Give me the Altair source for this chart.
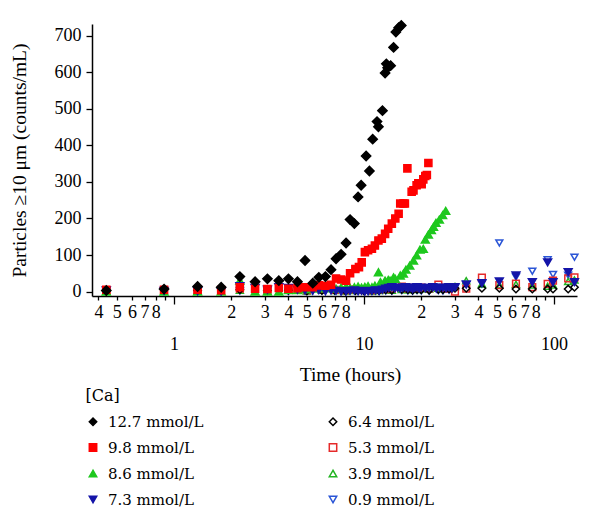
import altair as alt
import pandas as pd

# ---- data (Time in hours, particles counts/mL) ----
t_127 = [0.44, 0.886, 1.33, 1.77, 2.22, 2.67, 3.10, 3.56, 4.00, 4.46, 4.89, 5.37, 5.78, 6.26, 6.70,
         7.12, 7.57, 8.04, 8.44, 8.89, 9.30, 9.65, 10.25, 10.67, 11.1, 11.7, 11.9, 12.5, 12.9, 13.1,
         13.3, 13.8, 14.3, 14.7, 15.2, 15.7]
v_127 = [3, 7, 14, 12, 41, 27, 35, 30, 35, 27, 85, 23, 39, 41, 60,
         90, 102, 133, 197, 186, 259, 291, 371, 330, 417, 465, 451, 495, 598, 623,
         612, 618, 668, 710, 722, 728]

t_98 = [0.44, 0.886, 1.33, 1.77, 2.22, 2.67, 3.10, 3.56, 4.00, 4.46, 4.89, 5.37, 5.78, 6.26, 6.70,
        7.12, 7.57, 8.04, 8.44, 9.0, 9.4, 9.72, 10.1, 10.5, 11.0, 11.4, 11.9, 12.4, 12.9, 13.4,
        14.0, 14.6, 15.2, 15.5, 16.1, 16.4, 16.9, 17.8, 18.2, 18.9, 19.3, 20.1, 20.5, 21.0, 21.4, 21.8]
v_98 = [5, 5, 5, 4, 12, 8, 7, 10, 8, 9, 12, 12, 17, 16, 19,
        36, 33, 30, 50, 62, 67, 80, 108, 113, 117, 126, 140, 145, 158, 172,
        186, 200, 213, 241, 241, 241, 337, 273, 277, 291, 296, 294, 307, 316, 319, 352]

t_86 = [0.44, 0.886, 1.33, 1.77, 2.22, 2.67, 3.10, 3.56, 4.00, 4.46, 4.89, 5.37, 5.78, 6.26, 6.70,
        7.12, 7.57, 8.04, 8.44, 8.89, 9.30, 9.70, 10.1, 10.5, 11.0, 11.4, 11.9, 12.2, 12.9, 13.4,
        13.7, 14.3, 14.6, 15.5, 16.1, 16.6, 17.4, 18.2, 18.9, 19.7, 20.5, 21.0, 21.8, 22.6, 23.2,
        23.9, 24.9, 25.9, 26.9]
v_86 = [0, 0, 0, 0, 30, 0, 0, 0, 5, 4, 6, 8, 10, 9, 12,
        8, 11, 13, 10, 12, 14, 11, 13, 15, 12, 16, 53, 26, 30, 32,
        30, 39, 35, 44, 49, 60, 71, 85, 99, 115, 117, 142, 156, 168, 177,
        188, 197, 209, 221]

t_73 = [0.44, 0.886, 1.33, 1.77, 2.22, 2.67, 3.10, 3.56, 4.00, 4.46, 4.89, 5.37, 5.78, 6.26, 6.70,
        7.12, 7.57, 8.04, 8.44, 8.89, 9.30, 9.70, 10.1, 10.5, 11.0, 11.5, 12.0, 12.5, 13.0, 13.5,
        14.0, 14.5, 15.0, 15.5, 16.0, 16.5, 17.0, 17.5, 18.0, 18.5, 19.0, 19.5, 20.0, 21.0, 22.0,
        23.0, 24.0, 25.0, 26.0, 27.0, 28.0, 29.0, 30.1, 34.5, 41.7, 51.5, 63.0, 76.8, 92.5, 98.7,
        118.6, 128.0]
v_73 = [3, 2, 1, 0, 15, 10, 5, 12, 10, 5, 3, 2, 4, 1, 3,
        2, 0, 1, 2, 3, 1, 2, 0, 1, 2, 3, 2, 5, 8, 10,
        12, 9, 11, 8, 10, 12, 9, 11, 7, 10, 12, 8, 11, 9, 10,
        12, 8, 10, 11, 9, 12, 8, 12, 19, 23, 28, 44, 26, 80, 26,
        53, 26]

t_open = [0.44, 1.33, 2.22, 3.10, 4.00, 5.0, 6.0, 7.0, 8.0, 9.0, 10.0, 11.0, 12.0, 13.0, 14.0,
          15.8, 17.0, 18.0, 19.0, 20.0, 22.0, 24.6, 26.0, 28.0, 30.1, 34.5, 41.7, 51.5, 63.0, 76.8,
          92.5, 98.7, 118.6, 128.0]
v_64 = [2, 3, 5, 3, 4, 2, 3, 4, 2, 3, 2, 4, 3, 5, 4,
        6, 5, 4, 6, 5, 4, 6, 5, 7, 9, 9, 9, 9, 7, 7,
        7, 7, 7, 12]
v_53 = [4, 5, 8, 6, 5, 4, 6, 5, 4, 6, 5, 4, 6, 7, 8,
        14, 9, 10, 8, 11, 9, 19, 10, 8, 0, 8, 38, 18, 22, 12,
        21, 30, 36, 39]
v_39 = [1, 2, 4, 2, 3, 2, 4, 3, 2, 3, 4, 2, 3, 5, 4,
        6, 5, 7, 6, 8, 7, 9, 8, 10, 14, 30, 21, 18, 20, 18,
        15, 18, 28, 32]
v_09 = [0, 1, 2, 1, 0, 1, 2, 1, 0, 1, 2, 1, 0, 2, 1,
        3, 2, 1, 3, 2, 1, 3, 2, 4, 10, 21, 21, 133, 40, 56,
        87, 47, 45, 94]

series_names = ["12.7 mmol/L", "9.8 mmol/L", "8.6 mmol/L", "7.3 mmol/L",
                "6.4 mmol/L", "5.3 mmol/L", "3.9 mmol/L", "0.9 mmol/L"]
shapes = ["diamond", "square", "triangle-up", "triangle-down",
          "diamond", "square", "triangle-up", "triangle-down"]
strokes = ["#000000", "#ff0000", "#1ec81e", "#1414a8",
           "#000000", "#e52a2a", "#22b422", "#2a55d6"]
fills = ["#000000", "#ff0000", "#1ec81e", "#1414a8",
         "transparent", "transparent", "transparent", "transparent"]
marker_sizes = [85, 50, 62, 62, 55, 45, 48, 48]

x_ticks = [0.4, 0.5, 0.6, 0.7, 0.8, 0.9, 1, 2, 3, 4, 5, 6, 7, 8, 9, 10,
           20, 30, 40, 50, 60, 70, 80, 90, 100]
y_ticks = [0, 100, 200, 300, 400, 500, 600, 700]

# draw order: open series first, then filled
rows = []
for name, ts, vs in [("0.9 mmol/L", t_open, v_09), ("3.9 mmol/L", t_open, v_39),
                     ("5.3 mmol/L", t_open, v_53), ("6.4 mmol/L", t_open, v_64),
                     ("8.6 mmol/L", t_86, v_86), ("7.3 mmol/L", t_73, v_73),
                     ("9.8 mmol/L", t_98, v_98), ("12.7 mmol/L", t_127, v_127)]:
    for t, v in zip(ts, vs):
        rows.append({"time": t, "particles": v, "Ca": name})
df = pd.DataFrame(rows)
df["order"] = range(len(df))
size_map = dict(zip(series_names, marker_sizes))
df["msize"] = df["Ca"].map(size_map)

FONT = "Liberation Serif"
LEGEND_FONT = "DejaVu Serif"

legend = alt.Legend(
    title="[Ca]", orient="none", legendX=-6.5, legendY=364, columns=2,
    columnPadding=122, rowPadding=10, padding=0, titlePadding=10,
    labelFont=LEGEND_FONT, labelFontSize=15, labelColor="#000", labelOffset=7.5,
    titleFont=LEGEND_FONT, titleFontSize=16, titleFontWeight="normal", titleColor="#000",
    symbolSize=55, symbolStrokeWidth=1.5,
)

major_test = "datum.value == 1 || datum.value == 10 || datum.value == 100"
digit = "round(datum.value / pow(10, floor(log(datum.value) / LN10 + 1e-6)))"
label_expr = (f"({major_test}) ? ['', '' + datum.value] : "
              f"({digit} == 9 ? '' : '' + {digit})")

chart = alt.Chart(df).mark_point(opacity=1, strokeWidth=1.5).encode(
    x=alt.X("time:Q", scale=alt.Scale(type="log", domain=[0.37, 132], nice=False),
            axis=alt.Axis(
                title="Time (hours)", values=x_ticks, labelExpr=label_expr,
                tickSize={"condition": {"test": major_test, "value": 8}, "value": 4},
                labelLineHeight=28, labelPadding=3, labelOverlap=False, labelFlush=False,
                labelBound=False, grid=False, titleX=258, titleY=78,
                titleBaseline="middle")),
    y=alt.Y("particles:Q", scale=alt.Scale(domain=[-12, 732], nice=False, zero=False),
            axis=alt.Axis(title="Particles ≥10 μm (counts/mL)", values=y_ticks,
                          tickSize=6, labelPadding=5, grid=False,
                          titleX=-73, titleY=136, titleBaseline="middle")),
    shape=alt.Shape("Ca:N", scale=alt.Scale(domain=series_names, range=shapes), legend=legend),
    fill=alt.Fill("Ca:N", scale=alt.Scale(domain=series_names, range=fills), legend=legend),
    stroke=alt.Stroke("Ca:N", scale=alt.Scale(domain=series_names, range=strokes), legend=legend),
    size=alt.Size("msize:Q", scale=None, legend=None),
    order=alt.Order("order:Q"),
).properties(
    width=485, height=272,
    autosize=alt.AutoSizeParams(type="none"),
    padding={"left": 84, "top": 16, "right": 15, "bottom": 225},
).configure(
    font=FONT,
).configure_view(stroke=None).configure_axis(
    labelFont=FONT, labelFontSize=18, labelColor="#000",
    titleFont=FONT, titleFontSize=19.5, titleFontWeight="normal", titleColor="#000",
    domainColor="#000", domainWidth=1.5, tickColor="#000", tickWidth=1.3,
)

chart.save("out.html", embed_options={"renderer": "svg", "actions": False})
